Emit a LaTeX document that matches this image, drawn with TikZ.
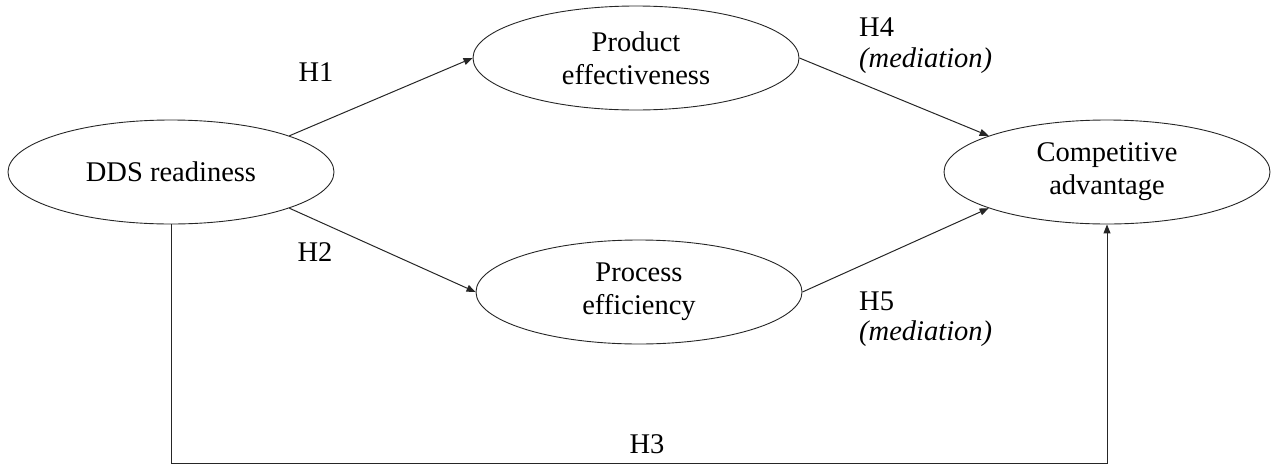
\documentclass[tikz,border=0pt]{standalone}
\usepackage{fontspec}
\setmainfont{Liberation Serif}
\usetikzlibrary{shapes.geometric,arrows.meta}
\begin{document}
\begin{tikzpicture}[x=1pt,y=-1pt,
  construct/.style={ellipse,draw=black!85,line width=0.9pt,minimum width=326pt,minimum height=104pt,inner sep=0pt,align=center,font=\fontsize{28.5}{33}\selectfont},
  lbl/.style={inner sep=0pt,font=\fontsize{28.5}{33}\selectfont},
  arr/.style={draw=black!85,line width=1pt,-{Triangle[length=9pt,width=7pt]}}]
\useasboundingbox (0,0) rectangle (1274,466);
\node[construct] (dds) at (171,172) {DDS readiness};
\node[construct] (prod) at (636,58) {Product\\effectiveness};
\node[construct] (proc) at (639,292) {Process\\efficiency};
\node[construct] (comp) at (1107,172) {Competitive\\advantage};
\draw[arr] (dds.17) -- (prod.west);
\draw[arr] (dds.-17) -- (proc.west);
\draw[arr] (prod.east) -- (comp.163);
\draw[arr] (proc.east) -- (comp.197);
\coordinate (bl) at (171,463);
\draw[arr] (dds.south) -- (bl) -| (comp.south);
\node[lbl] (h1) at (316,72) {H1};
\node[lbl] (h2) at (315,252) {H2};
\node[lbl] (h3) at (647,444) {H3};
\node[lbl,anchor=base west] (h4) at (859,36) {H4};
\node[lbl,anchor=base west] (m4) at (859,67) {\textit{(mediation)}};
\node[lbl,anchor=base west] (h5) at (859,310) {H5};
\node[lbl,anchor=base west] (m5) at (859,340) {\textit{(mediation)}};
\end{tikzpicture}
\end{document}
